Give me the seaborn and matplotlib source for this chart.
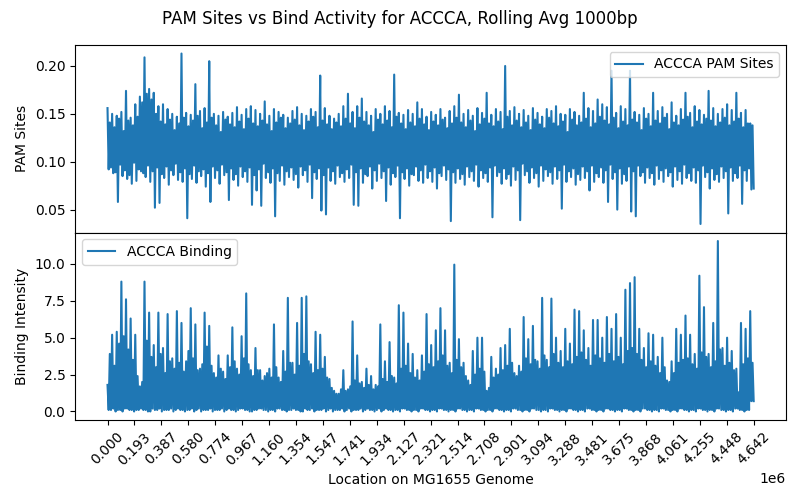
import numpy as np
import pandas as pd
import matplotlib
matplotlib.use("Agg")
import matplotlib.pyplot as plt
import seaborn as sns

genome_length = 4641652

pam_sites = [
    .156, .092, .141, .094, .150, .088, .136, .089, .148, .058, .145, .097, .152, .085, .132, .091, .174, .082, .143, .086,
    .146, .077, .138, .099, .160, .080, .147, .092, .168, .090, .162, .088, .209, .084, .171, .096, .176, .079, .165, .090,
    .172, .052, .150, .094, .158, .057, .142, .087, .160, .083, .139, .095, .155, .076, .144, .091, .150, .086, .133, .098,
    .147, .081, .140, .089, .213, .079, .146, .093, .151, .041, .137, .087, .149, .082, .143, .096, .181, .078, .148, .090,
    .153, .085, .135, .092, .156, .074, .141, .088, .205, .058, .146, .095, .150, .083, .138, .091, .148, .077, .131, .097,
    .152, .086, .144, .089, .147, .060, .139, .093, .151, .081, .136, .087, .157, .075, .142, .095, .149, .084, .134, .090,
    .155, .079, .145, .094, .158, .055, .140, .086, .154, .070, .137, .092, .150, .054, .143, .098, .163, .083, .139, .089,
    .148, .078, .132, .093, .155, .043, .141, .088, .152, .080, .146, .096, .149, .076, .135, .090, .146, .084, .140, .094,
    .153, .081, .144, .087, .157, .073, .138, .095, .150, .086, .133, .091, .148, .079, .142, .097, .155, .062, .147, .089,
    .152, .082, .136, .093, .190, .049, .143, .086, .156, .045, .139, .094, .148, .080, .134, .090, .145, .077, .141, .096,
    .150, .084, .137, .088, .158, .079, .145, .092, .171, .083, .140, .097, .152, .055, .135, .089, .158, .054, .146, .093,
    .166, .078, .142, .087, .152, .085, .138, .095, .148, .072, .131, .091, .155, .080, .144, .098, .150, .083, .139, .090,
    .158, .059, .143, .094, .153, .076, .136, .088, .191, .084, .147, .096, .151, .041, .140, .089, .149, .082, .134, .093,
    .154, .075, .141, .087, .150, .086, .137, .095, .162, .080, .145, .091, .155, .078, .139, .097, .147, .083, .133, .090,
    .152, .079, .142, .094, .149, .072, .138, .088, .155, .085, .144, .096, .146, .081, .135, .092, .153, .038, .140, .089,
    .158, .078, .146, .093, .170, .082, .141, .087, .150, .076, .136, .095, .154, .084, .143, .090, .148, .080, .132, .097,
    .156, .074, .139, .091, .151, .083, .145, .088, .172, .079, .140, .094, .149, .042, .137, .096, .155, .085, .142, .089,
    .152, .077, .134, .093, .200, .082, .147, .087, .153, .075, .138, .095, .157, .081, .143, .091, .150, .039, .136, .098,
    .154, .086, .141, .090, .148, .078, .133, .094, .156, .083, .144, .088, .151, .074, .139, .096, .147, .080, .135, .092,
    .155, .085, .146, .089, .153, .077, .140, .095, .158, .082, .137, .091, .150, .051, .142, .097, .149, .079, .131, .090,
    .155, .084, .144, .093, .152, .076, .138, .087, .148, .081, .141, .095, .172, .083, .145, .090, .156, .070, .136, .096,
    .153, .079, .140, .088, .165, .084, .147, .094, .160, .078, .143, .091, .157, .058, .139, .097, .195, .082, .146, .089,
    .151, .050, .135, .093, .158, .077, .142, .087, .155, .080, .138, .095, .195, .048, .144, .090, .152, .043, .141, .096,
    .149, .085, .133, .089, .156, .078, .145, .094, .150, .083, .137, .088, .172, .076, .143, .096, .153, .082, .140, .091,
    .157, .079, .146, .093, .150, .085, .134, .089, .162, .074, .141, .095, .148, .081, .138, .090, .155, .077, .144, .097,
    .172, .083, .147, .088, .151, .080, .136, .094, .158, .078, .142, .091, .154, .035, .139, .096, .149, .084, .145, .089,
    .174, .072, .143, .093, .156, .081, .137, .087, .150, .079, .141, .095, .155, .083, .146, .090, .160, .046, .138, .094,
    .154, .080, .142, .088, .172, .083, .145, .096, .151, .056, .136, .091, .154, .080, .140, .093, .140, .071, .138, .072,
]

binding = [
    1.8, 0.1, 3.9, 0.1, 5.2, 0.2, 3.1, 0.0, 5.4, 0.1, 4.6, 0.1, 8.8, 0.0, 5.1, 0.2, 7.6, 0.2, 4.2, 0.1,
    6.3, 0.1, 3.5, 0.0, 5.2, 0.1, 2.4, 0.1, 1.7, 0.2, 2.0, 0.1, 8.8, 0.1, 4.8, 0.0, 6.7, 0.0, 3.7, 0.2,
    4.5, 0.1, 3.0, 0.1, 6.7, 0.2, 3.9, 0.0, 4.3, 0.1, 2.6, 0.1, 6.6, 0.1, 3.4, 0.2, 3.6, 0.0, 2.9, 0.1,
    6.8, 0.2, 3.3, 0.1, 6.0, 0.1, 2.7, 0.0, 3.4, 0.1, 4.1, 0.1, 7.0, 0.2, 3.6, 0.0, 5.9, 0.1, 2.8, 0.2,
    2.9, 0.0, 3.2, 0.1, 6.7, 0.1, 4.4, 0.1, 5.8, 0.2, 3.1, 0.0, 2.6, 0.1, 2.3, 0.1, 3.8, 0.1, 2.9, 0.2,
    2.7, 0.0, 2.2, 0.1, 3.8, 0.2, 3.0, 0.1, 5.7, 0.1, 3.4, 0.0, 2.9, 0.1, 2.5, 0.2, 5.1, 0.2, 3.6, 0.1,
    8.0, 0.1, 3.2, 0.0, 2.8, 0.0, 2.4, 0.1, 4.3, 0.1, 2.8, 0.2, 2.8, 0.2, 2.1, 0.1, 2.4, 0.1, 2.6, 0.0,
    2.9, 0.1, 2.3, 0.1, 5.9, 0.0, 3.0, 0.2, 2.3, 0.2, 2.0, 0.1, 4.1, 0.1, 2.7, 0.0, 7.7, 0.1, 3.3, 0.1,
    3.3, 0.2, 2.5, 0.1, 6.0, 0.1, 3.1, 0.0, 7.7, 0.0, 3.9, 0.2, 7.8, 0.1, 3.4, 0.1, 3.2, 0.2, 2.6, 0.0,
    5.4, 0.1, 2.8, 0.1, 5.2, 0.1, 2.9, 0.2, 3.7, 0.0, 2.3, 0.1, 2.2, 0.2, 1.6, 0.0, 1.4, 0.1, 1.2, 0.1,
    1.2, 0.1, 1.5, 0.2, 2.8, 0.0, 1.4, 0.1, 1.5, 0.2, 1.7, 0.0, 6.1, 0.1, 2.1, 0.1, 3.8, 0.1, 1.9, 0.2,
    2.0, 0.0, 1.6, 0.1, 2.9, 0.2, 1.8, 0.1, 2.4, 0.1, 1.5, 0.0, 1.8, 0.1, 1.7, 0.2, 5.9, 0.0, 2.2, 0.1,
    3.4, 0.2, 2.0, 0.1, 4.7, 0.1, 2.4, 0.0, 2.3, 0.1, 1.9, 0.1, 7.2, 0.0, 2.9, 0.2, 6.7, 0.2, 3.1, 0.1,
    4.6, 0.1, 2.6, 0.0, 3.9, 0.1, 2.3, 0.1, 2.8, 0.0, 2.1, 0.2, 3.8, 0.2, 2.7, 0.1, 6.6, 0.1, 3.2, 0.0,
    4.5, 0.1, 3.0, 0.1, 5.5, 0.0, 3.4, 0.2, 7.0, 0.2, 3.8, 0.1, 5.5, 0.1, 3.1, 0.0, 3.3, 0.1, 2.6, 0.1,
    9.95, 0.0, 3.5, 0.2, 4.9, 0.2, 3.0, 0.1, 3.3, 0.1, 2.4, 0.0, 2.1, 0.1, 1.8, 0.1, 4.1, 0.0, 2.5, 0.2,
    5.0, 0.2, 2.9, 0.1, 5.0, 0.1, 2.7, 0.0, 1.4, 0.1, 1.6, 0.1, 3.7, 0.0, 2.3, 0.2, 2.9, 0.2, 2.5, 0.1,
    4.3, 0.1, 2.8, 0.0, 4.5, 0.1, 3.1, 0.1, 5.6, 0.0, 3.3, 0.2, 2.6, 0.2, 2.4, 0.1, 3.1, 0.1, 2.7, 0.0,
    6.4, 0.1, 3.6, 0.1, 4.9, 0.0, 3.2, 0.2, 5.8, 0.2, 3.5, 0.1, 3.4, 0.1, 2.9, 0.0, 7.7, 0.1, 3.8, 0.1,
    3.5, 0.0, 3.0, 0.2, 7.65, 0.2, 3.9, 0.1, 5.0, 0.1, 3.3, 0.0, 4.1, 0.1, 3.0, 0.1, 5.6, 0.0, 3.4, 0.2,
    4.6, 0.2, 3.2, 0.1, 6.9, 0.1, 3.7, 0.0, 6.8, 0.1, 4.0, 0.1, 5.5, 0.0, 3.5, 0.2, 4.3, 0.2, 3.1, 0.1,
    6.2, 0.1, 3.8, 0.0, 6.2, 0.1, 3.6, 0.1, 5.0, 0.0, 3.3, 0.2, 6.4, 0.2, 3.9, 0.1, 5.6, 0.1, 3.4, 0.0,
    6.6, 0.1, 3.7, 0.1, 5.0, 0.0, 3.2, 0.2, 8.25, 0.2, 4.1, 0.1, 8.7, 0.1, 4.3, 0.0, 9.1, 0.1, 3.9, 0.1,
    5.6, 0.0, 3.5, 0.2, 4.3, 0.2, 3.0, 0.1, 5.3, 0.1, 3.4, 0.0, 5.2, 0.1, 3.1, 0.1, 3.7, 0.0, 2.6, 0.2,
    5.0, 0.2, 3.0, 0.1, 2.1, 0.1, 2.0, 0.0, 3.4, 0.1, 2.6, 0.1, 5.6, 0.0, 3.3, 0.2, 5.2, 0.2, 3.5, 0.1,
    6.5, 0.1, 3.6, 0.0, 5.2, 0.1, 3.2, 0.1, 3.9, 0.0, 2.9, 0.2, 9.2, 0.2, 4.0, 0.1, 7.07, 0.1, 3.7, 0.0,
    3.9, 0.1, 3.0, 0.1, 6.0, 0.0, 3.4, 0.2, 11.55, 0.2, 4.2, 0.1, 4.3, 0.1, 3.1, 0.0, 5.0, 0.1, 3.3, 0.1,
    4.1, 0.0, 2.8, 0.2, 2.9, 0.2, 1.3, 0.1, 6.0, 0.1, 3.2, 0.0, 5.6, 0.1, 3.6, 0.1, 6.8, 0.7, 3.3, 0.7,
]

tick_positions = np.linspace(0, genome_length, 25)

df_pam = pd.DataFrame({"location": np.linspace(0, genome_length, len(pam_sites)),
                       "value": pam_sites})
df_bind = pd.DataFrame({"location": np.linspace(0, genome_length, len(binding)),
                        "value": binding})

fig, (ax1, ax2) = plt.subplots(2, 1, sharex=True, figsize=(8, 5), dpi=100)
fig.subplots_adjust(left=0.094, right=0.9825, top=0.91, bottom=0.16, hspace=0)

sns.lineplot(data=df_pam, x="location", y="value", ax=ax1, estimator=None,
             color="#1f77b4", linewidth=1.5, label="ACCCA PAM Sites")
sns.lineplot(data=df_bind, x="location", y="value", ax=ax2, estimator=None,
             color="#1f77b4", linewidth=1.5, label="ACCCA Binding")

ax1.set_ylabel("PAM Sites")
ax1.set_xlabel("")
ax1.legend(loc="upper right")
ax2.set_ylabel("Binding Intensity")
ax2.set_xlabel("Location on MG1655 Genome")
ax2.legend(loc="upper left")
ax1.set_yticks([0.05, 0.10, 0.15, 0.20])
ax2.set_yticks([0.0, 2.5, 5.0, 7.5, 10.0])

ax2.set_xticks(tick_positions)
ax2.tick_params(axis="x", labelrotation=45)

fig.suptitle("PAM Sites vs Bind Activity for ACCCA, Rolling Avg 1000bp")
fig.savefig("out.png", dpi=100)
